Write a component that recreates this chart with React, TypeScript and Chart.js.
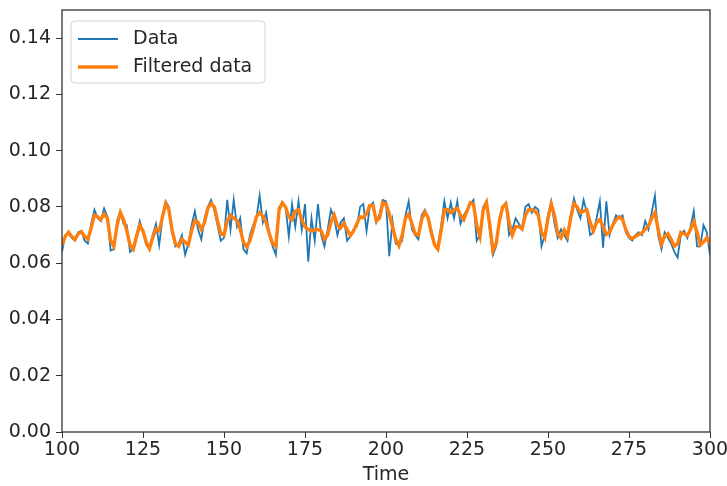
import React, { useEffect, useRef } from "react";
import { Chart, registerables } from "chart.js";

Chart.register(...registerables);

const START_TIME = 100;
const X_TICKS = [100, 125, 150, 175, 200, 225, 250, 275, 300];
const Y_TICKS = [0, 0.02, 0.04, 0.06, 0.08, 0.1, 0.12, 0.14];
const LEGEND_LABELS = ["Data", "Filtered data"];
const X_TITLE = "Time";

const dataValues = [
  0.064, 0.07, 0.0705, 0.069, 0.068, 0.071, 0.0715, 0.068, 0.067, 0.074,
  0.079, 0.076, 0.075, 0.0795, 0.0765, 0.0645, 0.065, 0.075, 0.0785, 0.074,
  0.0735, 0.064, 0.065, 0.07, 0.075, 0.071, 0.0665, 0.065, 0.07, 0.074,
  0.0665, 0.076, 0.082, 0.08, 0.071, 0.066, 0.067, 0.07, 0.063, 0.067,
  0.0735, 0.0785, 0.072, 0.0685, 0.076, 0.08, 0.0825, 0.079, 0.0735, 0.068,
  0.069, 0.0825, 0.072, 0.0825, 0.073, 0.076, 0.065, 0.0635, 0.07, 0.0735,
  0.076, 0.084, 0.0745, 0.078, 0.07, 0.066, 0.063, 0.08, 0.081, 0.08,
  0.0695, 0.081, 0.073, 0.082, 0.072, 0.081, 0.0605, 0.076, 0.068, 0.081,
  0.07, 0.066, 0.072, 0.079, 0.076, 0.07, 0.0745, 0.076, 0.068, 0.0695,
  0.072, 0.073, 0.08, 0.081, 0.0715, 0.08, 0.0815, 0.0745, 0.0775, 0.0825,
  0.082, 0.0625, 0.075, 0.067, 0.0665, 0.068, 0.077, 0.082, 0.072, 0.07,
  0.0685, 0.077, 0.079, 0.076, 0.07, 0.0665, 0.066, 0.073, 0.082, 0.076,
  0.0815, 0.076, 0.082, 0.074, 0.077, 0.079, 0.081, 0.0825, 0.068, 0.07,
  0.08, 0.082, 0.072, 0.063, 0.066, 0.076, 0.08, 0.0815, 0.07, 0.072,
  0.076, 0.074, 0.072, 0.08, 0.081, 0.078, 0.08, 0.079, 0.066, 0.07,
  0.077, 0.082, 0.074, 0.069, 0.072, 0.07, 0.068, 0.077, 0.083, 0.079,
  0.076, 0.0825, 0.078, 0.07, 0.071, 0.076, 0.082, 0.0655, 0.082, 0.07,
  0.074, 0.077, 0.076, 0.077, 0.071, 0.069, 0.068, 0.07, 0.071, 0.07,
  0.075, 0.072, 0.078, 0.084, 0.07, 0.065, 0.071, 0.069, 0.067, 0.064,
  0.062, 0.07, 0.0715, 0.069, 0.073, 0.0785, 0.066, 0.066, 0.0735, 0.071,
  0.063,
];

const filteredValues = [
  0.0665, 0.0695, 0.071, 0.0695, 0.0685, 0.0705, 0.0712, 0.0695, 0.0685, 0.0725,
  0.077, 0.0765, 0.0755, 0.0775, 0.076, 0.068, 0.066, 0.0735, 0.078, 0.0755,
  0.0715, 0.0665, 0.065, 0.0695, 0.0735, 0.0715, 0.0675, 0.0652, 0.069, 0.0722,
  0.0715, 0.0765, 0.0812, 0.079, 0.0715, 0.067, 0.066, 0.0685, 0.0675, 0.0665,
  0.0715, 0.0752, 0.0745, 0.072, 0.0745, 0.0795, 0.0812, 0.08, 0.075, 0.0705,
  0.07, 0.075, 0.077, 0.076, 0.0752, 0.072, 0.0675, 0.0658, 0.068, 0.072,
  0.0765, 0.078, 0.0765, 0.0745, 0.0705, 0.067, 0.066, 0.079, 0.0815, 0.08,
  0.0765, 0.0755, 0.0785, 0.079, 0.0755, 0.073, 0.072, 0.0715, 0.0718, 0.072,
  0.0715, 0.0685, 0.07, 0.0745, 0.0772, 0.0735, 0.0725, 0.0742, 0.072, 0.0698,
  0.0715, 0.074, 0.0765, 0.0762, 0.0775, 0.0805, 0.0805, 0.075, 0.076, 0.0815,
  0.081, 0.0775, 0.073, 0.0685, 0.0662, 0.07, 0.076, 0.0775, 0.074, 0.0705,
  0.07, 0.0755, 0.0782, 0.0762, 0.071, 0.0665, 0.065, 0.0715, 0.079, 0.079,
  0.078, 0.079, 0.0795, 0.077, 0.0755, 0.0785, 0.0815, 0.081, 0.0735, 0.0695,
  0.079, 0.0815, 0.074, 0.0645, 0.067, 0.075, 0.08, 0.081, 0.0745, 0.07,
  0.073, 0.073, 0.0722, 0.077, 0.079, 0.079, 0.0785, 0.077, 0.071, 0.069,
  0.076, 0.081, 0.077, 0.0705, 0.069, 0.0718, 0.0695, 0.076, 0.0812, 0.08,
  0.078, 0.0785, 0.079, 0.0745, 0.0715, 0.0745, 0.0755, 0.073, 0.0702, 0.071,
  0.0735, 0.0755, 0.0765, 0.0755, 0.072, 0.0695, 0.0688, 0.0695, 0.0702, 0.0708,
  0.072, 0.0732, 0.076, 0.078, 0.072, 0.0668, 0.0695, 0.0705, 0.0685, 0.066,
  0.067, 0.071, 0.0705, 0.0698, 0.072, 0.0748, 0.071, 0.0665, 0.0675, 0.069,
  0.067,
];

const BLUE = "#1f77b4";
const ORANGE = "#ff7f0e";
const TEXT = "#262626";
const FONT = "'DejaVu Sans', sans-serif";
const FONT_SIZE = 19;

const frameAndLegend = {
  id: "frameAndLegend",
  afterDatasetsDraw(chart: any) {
    const { ctx, chartArea } = chart;
    ctx.save();
    ctx.strokeStyle = "#333";
    ctx.lineWidth = 1.3;
    ctx.strokeRect(chartArea.left, chartArea.top, chartArea.right - chartArea.left, chartArea.bottom - chartArea.top);

    const lx = chartArea.left + 9;
    const ly = chartArea.top + 11;
    const w = 194;
    const h = 62;
    const r = 4;
    ctx.beginPath();
    ctx.moveTo(lx + r, ly);
    ctx.lineTo(lx + w - r, ly);
    ctx.quadraticCurveTo(lx + w, ly, lx + w, ly + r);
    ctx.lineTo(lx + w, ly + h - r);
    ctx.quadraticCurveTo(lx + w, ly + h, lx + w - r, ly + h);
    ctx.lineTo(lx + r, ly + h);
    ctx.quadraticCurveTo(lx, ly + h, lx, ly + h - r);
    ctx.lineTo(lx, ly + r);
    ctx.quadraticCurveTo(lx, ly, lx + r, ly);
    ctx.closePath();
    ctx.fillStyle = "rgba(255,255,255,0.8)";
    ctx.fill();
    ctx.strokeStyle = "#d5d5d5";
    ctx.lineWidth = 1;
    ctx.stroke();

    const colors = [BLUE, ORANGE];
    const widths = [1.8, 3.4];
    ctx.font = `${FONT_SIZE}px ${FONT}`;
    ctx.textBaseline = "middle";
    ctx.textAlign = "left";
    LEGEND_LABELS.forEach((label, i) => {
      const y = ly + 18 + i * 28;
      ctx.beginPath();
      ctx.strokeStyle = colors[i];
      ctx.lineWidth = widths[i];
      ctx.moveTo(lx + 7, y);
      ctx.lineTo(lx + 47, y);
      ctx.stroke();
      ctx.fillStyle = TEXT;
      ctx.fillText(label, lx + 62, y);
    });
    ctx.restore();
  },
};

export default function App() {
  const ref = useRef<HTMLCanvasElement | null>(null);

  useEffect(() => {
    document.body.style.margin = "0";
    const canvas = ref.current;
    if (!canvas) return;
    const chart = new Chart(canvas, {
      type: "line",
      data: {
        datasets: [
          {
            label: LEGEND_LABELS[0],
            data: dataValues.map((v, i) => ({ x: START_TIME + i, y: v })),
            borderColor: BLUE,
            borderWidth: 1.8,
            pointRadius: 0,
            tension: 0,
            order: 1,
          },
          {
            label: LEGEND_LABELS[1],
            data: filteredValues.map((v, i) => ({ x: START_TIME + i, y: v })),
            borderColor: ORANGE,
            borderWidth: 3.4,
            pointRadius: 0,
            tension: 0,
            order: 0,
          },
        ],
      },
      options: {
        animation: false,
        responsive: false,
        maintainAspectRatio: false,
        layout: { padding: { left: 8, right: 17, top: 10, bottom: 0 } },
        plugins: { legend: { display: false }, tooltip: { enabled: false } },
        scales: {
          x: {
            type: "linear",
            min: X_TICKS[0],
            max: X_TICKS[X_TICKS.length - 1],
            afterBuildTicks: (s: any) => {
              s.ticks = X_TICKS.map((v) => ({ value: v }));
            },
            ticks: {
              color: TEXT,
              font: { family: FONT, size: FONT_SIZE },
              padding: 1,
              maxRotation: 0,
              callback: (v: any) => String(v),
            },
            grid: { display: true, drawOnChartArea: false, drawTicks: true, tickLength: 6, color: "#333" },
            border: { display: false },
            title: { display: true, text: X_TITLE, color: TEXT, font: { family: FONT, size: FONT_SIZE }, padding: { top: 1, bottom: 0 } },
            afterFit: (s: any) => {
              s.height = 54;
              s.paddingLeft = 0;
              s.paddingRight = 0;
            },
          },
          y: {
            type: "linear",
            min: 0,
            max: 0.15,
            afterBuildTicks: (s: any) => {
              s.ticks = Y_TICKS.map((v) => ({ value: v }));
            },
            ticks: {
              color: TEXT,
              font: { family: FONT, size: FONT_SIZE },
              padding: 5,
              callback: (v: any) => Number(v).toFixed(2),
            },
            grid: { display: true, drawOnChartArea: false, drawTicks: true, tickLength: 6, color: "#333" },
            border: { display: false },
            afterFit: (s: any) => {
              s.width = 54;
              s.paddingTop = 0;
              s.paddingBottom = 0;
            },
          },
        },
      },
      plugins: [frameAndLegend],
    });
    return () => chart.destroy();
  }, []);

  return (
    <div style={{ position: "fixed", left: 0, top: 0, width: 727, height: 486, background: "#fff" }}>
      <canvas ref={ref} width={727} height={486} style={{ width: 727, height: 486, display: "block" }} />
    </div>
  );
}
